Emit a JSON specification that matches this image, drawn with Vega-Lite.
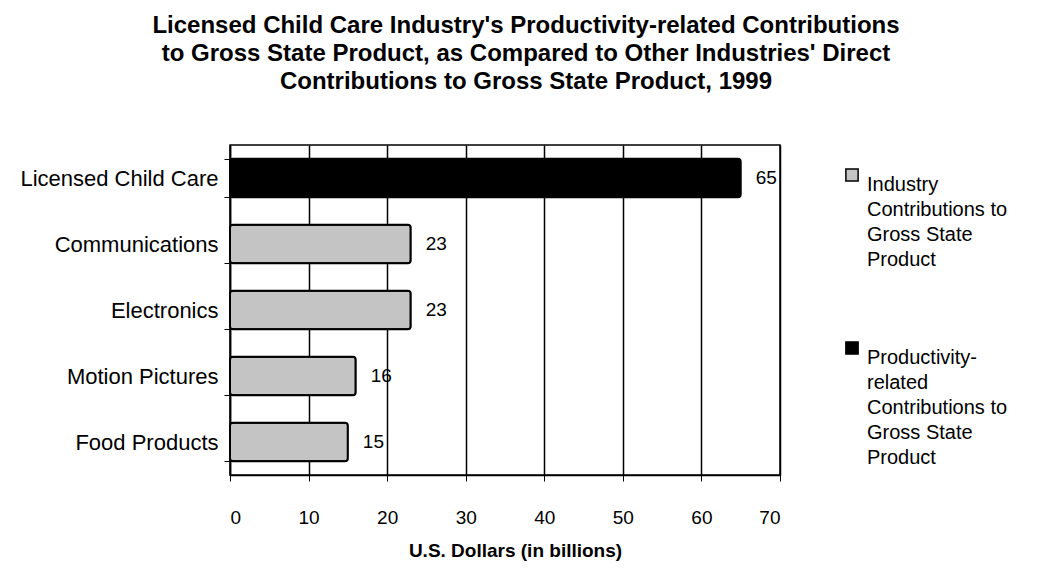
{
  "$schema": "https://vega.github.io/schema/vega-lite/v6.json",
  "autosize": {"type": "none"},
  "width": 550,
  "height": 330,
  "padding": {"left": 230, "top": 145, "right": 258, "bottom": 96},
  "background": "white",
  "config": {
    "font": "Liberation Sans",
    "view": {"stroke": "black", "strokeWidth": 1.5},
    "style": {"guide-label": {"lineHeight": 25}}
  },
  "title": {
    "text": [
      "Licensed Child Care Industry's Productivity-related Contributions",
      "to Gross State Product, as Compared to Other Industries' Direct",
      "Contributions to Gross State Product, 1999"
    ],
    "font": "Liberation Sans",
    "fontSize": 24,
    "fontWeight": "bold",
    "lineHeight": 28,
    "anchor": "middle",
    "dx": 21,
    "offset": 40,
    "color": "black"
  },
  "data": {
    "values": [
      {"industry": "Licensed Child Care", "value": 65, "type": "Productivity-related Contributions to Gross State Product"},
      {"industry": "Communications", "value": 23, "type": "Industry Contributions to Gross State Product"},
      {"industry": "Electronics", "value": 23, "type": "Industry Contributions to Gross State Product"},
      {"industry": "Motion Pictures", "value": 16, "type": "Industry Contributions to Gross State Product"},
      {"industry": "Food Products", "value": 15, "type": "Industry Contributions to Gross State Product"}
    ]
  },
  "encoding": {
    "y": {
      "field": "industry",
      "type": "nominal",
      "sort": null,
      "scale": {"paddingInner": 0.42, "paddingOuter": 0.21},
      "axis": {
        "title": null,
        "labelFontSize": 22,
        "labelColor": "black",
        "labelPadding": 6,
        "labelLimit": 230,
        "tickBand": "extent",
        "tickColor": "black",
        "tickSize": 6,
        "domainColor": "black",
        "domainWidth": 1.5,
        "grid": false
      }
    },
    "x": {
      "field": "value",
      "type": "quantitative",
      "scale": {"domain": [0, 70], "nice": false},
      "axis": {
        "title": "U.S. Dollars (in billions)",
        "titleFontSize": 19,
        "titleFontWeight": "bold",
        "titleColor": "black",
        "titlePadding": 14,
        "titleX": 285,
        "values": [0, 10, 20, 30, 40, 50, 60, 70],
        "labelFontSize": 19,
        "labelColor": "black",
        "labelPadding": 27,
        "labelDx": 4,
        "tickColor": "black",
        "tickSize": 6,
        "domainColor": "black",
        "domainWidth": 1.5,
        "grid": true,
        "gridColor": "black",
        "gridWidth": 1.5,
        "gridOpacity": 1
      }
    }
  },
  "layer": [
    {
      "mark": {"type": "bar", "stroke": "black", "strokeWidth": 2, "cornerRadius": 3},
      "encoding": {
        "color": {
          "field": "type",
          "type": "nominal",
          "scale": {
            "domain": ["Industry Contributions to Gross State Product", "Productivity-related Contributions to Gross State Product"],
            "range": ["#c4c4c4", "black"]
          },
          "legend": {
            "title": null,
            "orient": "right",
            "offset": 42,
            "symbolType": "square",
            "symbolSize": 150,
            "symbolStrokeColor": "black",
            "symbolStrokeWidth": 1.5,
            "labelFontSize": 20,
            "labelColor": "black",
            "labelLimit": 300,
            "labelBaseline": "top",
            "labelOffset": 5,
            "rowPadding": 68,
            "padding": 20,
            "labelExpr": "datum.label == 'Industry Contributions to Gross State Product' ? ['Industry', 'Contributions to', 'Gross State', 'Product'] : ['Productivity-', 'related', 'Contributions to', 'Gross State', 'Product']"
          }
        }
      }
    },
    {
      "mark": {"type": "text", "align": "left", "baseline": "middle", "dx": 15, "fontSize": 19, "color": "black"},
      "encoding": {"text": {"field": "value", "type": "quantitative"}}
    }
  ]
}
